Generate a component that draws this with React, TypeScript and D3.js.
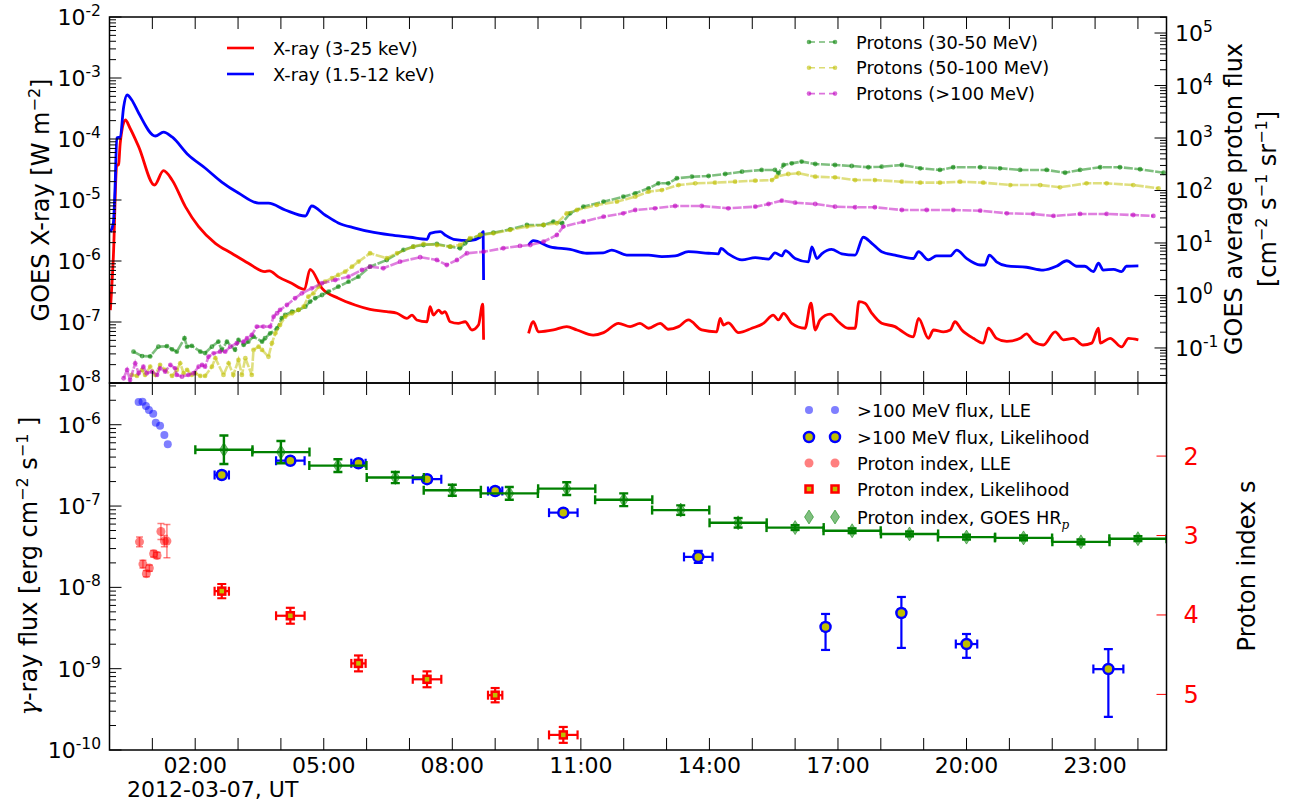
import React from "react";
import * as d3 from "d3";

// time is in hours UT on 2012-03-07

// GOES X-ray flux [W m^-2]; a null value marks the data gap
const xray3to25: [number, number | null][] = [
  [0.02, 1.57e-7], [0.09, 1.17e-6], [0.17, 3.75e-5], [0.21, 3.75e-5], [0.25, 8.5e-5], [0.37, 2.05e-4],
  [0.48, 1.5e-4], [0.68, 7.5e-5], [1.05, 1.76e-5], [1.26, 3.02e-5], [1.46, 2.13e-5], [1.77, 7.8e-6],
  [2.08, 3.65e-6], [2.47, 1.95e-6], [2.85, 1.34e-6], [3.24, 9.2e-7], [3.63, 6.7e-7], [3.73, 6.9e-7],
  [3.94, 5.5e-7], [4.25, 4.3e-7], [4.55, 3.43e-7], [4.68, 7.3e-7], [4.96, 3.57e-7], [5.34, 2.45e-7],
  [5.73, 1.9e-7], [6.08, 1.61e-7], [6.47, 1.48e-7], [6.71, 1.39e-7], [6.94, 1.15e-7], [7.06, 1.3e-7],
  [7.17, 1.08e-7], [7.41, 1.01e-7], [7.48, 1.78e-7], [7.56, 1.3e-7], [7.68, 1.57e-7], [7.76, 1.39e-7],
  [7.83, 1.48e-7], [7.95, 1.01e-7], [8.14, 9.5e-8], [8.3, 1.01e-7], [8.46, 7.4e-8], [8.61, 8.9e-8],
  [8.71, 1.97e-7], [8.73, 5.1e-8], [8.75, null],
  [9.78, 6.5e-8], [9.89, 1.01e-7], [10.01, 6.9e-8], [10.36, 7.4e-8], [10.67, 8.4e-8], [10.91, 7.4e-8],
  [11.29, 6.1e-8], [11.53, 6.7e-8], [11.88, 9.5e-8], [12.15, 8.4e-8], [12.38, 9.5e-8], [12.58, 7.9e-8],
  [12.85, 9.5e-8], [13.04, 7.6e-8], [13.28, 8.4e-8], [13.51, 1.08e-7], [13.82, 7.4e-8], [14.17, 6.9e-8],
  [14.25, 1.15e-7], [14.33, 8.9e-8], [14.44, 9.7e-8], [14.68, 6.7e-8], [14.99, 7.9e-8], [15.26, 9.5e-8],
  [15.49, 1.3e-7], [15.61, 1.08e-7], [15.73, 1.39e-7], [15.92, 9.5e-8], [16.23, 7.9e-8], [16.37, 2.03e-7],
  [16.47, 7.4e-8], [16.58, 1.08e-7], [16.82, 1.35e-7], [17.01, 1.01e-7], [17.24, 7.9e-8], [17.4, 7.9e-8],
  [17.49, 2.15e-7], [17.63, 2.03e-7], [17.79, 1.39e-7], [18.02, 9.5e-8], [18.33, 8.4e-8], [18.45, 7.4e-8],
  [18.76, 5.7e-8], [18.88, 1.15e-7], [19.11, 5.4e-8], [19.23, 7.4e-8], [19.46, 6.9e-8], [19.62, 7.4e-8],
  [19.73, 1.01e-7], [19.89, 7.4e-8], [20.16, 5.4e-8], [20.39, 4.5e-8], [20.51, 7.9e-8], [20.7, 5.4e-8],
  [20.94, 4.8e-8], [21.25, 5.4e-8], [21.4, 6.4e-8], [21.56, 4.8e-8], [21.79, 4.2e-8], [22.07, 6.9e-8],
  [22.26, 5.1e-8], [22.49, 5.4e-8], [22.72, 4.2e-8], [22.92, 4.5e-8], [23.08, 7.9e-8], [23.12, 4.5e-8],
  [23.35, 5.4e-8], [23.62, 3.9e-8], [23.78, 5.4e-8], [24.01, 5.1e-8],
];

const xray1p5to12: [number, number | null][] = [
  [0.02, 3.0e-6], [0.09, 4.2e-6], [0.13, 1.63e-5], [0.17, 1.04e-4], [0.25, 1.08e-4], [0.33, 3.35e-4],
  [0.41, 5.26e-4], [0.52, 4.35e-4], [0.68, 2.67e-4], [1.07, 1.12e-4], [1.26, 1.3e-4], [1.46, 1.08e-4],
  [1.84, 5.47e-5], [2.23, 3.35e-5], [2.62, 1.97e-5], [3.01, 1.3e-5], [3.48, 8.9e-6], [3.71, 8.9e-6],
  [4.1, 6.86e-6], [4.57, 5.47e-6], [4.72, 7.98e-6], [5.03, 5.68e-6], [5.34, 4.2e-6], [5.73, 3.47e-6],
  [6.08, 3.02e-6], [6.55, 2.67e-6], [7.02, 2.45e-6], [7.41, 2.27e-6], [7.48, 2.84e-6], [7.72, 3.02e-6],
  [7.83, 2.67e-6], [8.03, 2.27e-6], [8.41, 2.15e-6], [8.65, 2.45e-6], [8.72, 3.02e-6], [8.73, 4.9e-7],
  [8.75, null],
  [9.78, 1.83e-6], [9.89, 2.15e-6], [10.28, 1.71e-6], [10.75, 1.55e-6], [11.14, 1.34e-6], [11.52, 1.36e-6],
  [11.72, 1.51e-6], [12.07, 1.25e-6], [12.58, 1.25e-6], [12.89, 1.18e-6], [13.2, 1.21e-6], [13.51, 1.42e-6],
  [13.98, 1.34e-6], [14.21, 1.31e-6], [14.27, 1.61e-6], [14.44, 1.31e-6], [14.76, 1.04e-6], [15.07, 1.14e-6],
  [15.38, 1.07e-6], [15.53, 1.36e-6], [15.69, 1.21e-6], [15.77, 1.48e-6], [16.0, 1.1e-6], [16.31, 9.7e-7],
  [16.39, 1.71e-6], [16.51, 1.1e-6], [16.62, 1.31e-6], [16.85, 1.55e-6], [17.09, 1.31e-6], [17.4, 1.25e-6],
  [17.59, 2.45e-6], [17.79, 1.95e-6], [18.02, 1.42e-6], [18.33, 1.25e-6], [18.76, 1.1e-6], [18.88, 1.42e-6],
  [19.11, 1.04e-6], [19.3, 1.21e-6], [19.62, 1.21e-6], [19.77, 1.51e-6], [20.0, 1.1e-6], [20.32, 8.6e-7],
  [20.43, 8.6e-7], [20.53, 1.25e-6], [20.7, 9.7e-7], [20.94, 8.3e-7], [21.4, 7.9e-7], [21.79, 7.1e-7],
  [22.1, 8.2e-7], [22.34, 1.01e-6], [22.57, 8.2e-7], [22.76, 8.2e-7], [22.96, 6.7e-7], [23.08, 9.2e-7],
  [23.19, 7.1e-7], [23.43, 7.3e-7], [23.62, 6.7e-7], [23.73, 8.2e-7], [24.01, 8.3e-7],
];

// GOES average proton flux [cm^-2 s^-1 sr^-1]
const protons30to50: [number, number][] = [
  [0.56, 0.085], [0.76, 0.07], [0.95, 0.069], [1.14, 0.106], [1.34, 0.108], [1.46, 0.094], [1.57, 0.085],
  [1.75, 0.153], [1.81, 0.106], [1.92, 0.11], [2.12, 0.085], [2.23, 0.08], [2.39, 0.106], [2.54, 0.132],
  [2.62, 0.092], [2.74, 0.132], [2.93, 0.092], [3.01, 0.142], [3.13, 0.114], [3.24, 0.132], [3.36, 0.164],
  [3.56, 0.132], [3.63, 0.153], [3.75, 0.19], [3.91, 0.237], [4.02, 0.368], [4.1, 0.425], [4.26, 0.491],
  [4.41, 0.53], [4.57, 0.612], [4.68, 0.762], [4.8, 0.885], [4.96, 1.02], [5.11, 1.18], [5.34, 1.47],
  [5.58, 1.83], [5.81, 2.28], [6.08, 3.54], [6.47, 4.74], [6.86, 7.36], [7.09, 8.51], [7.33, 9.16],
  [7.64, 9.57], [7.95, 8.51], [8.18, 7.93], [8.3, 9.87], [8.41, 11.7], [8.65, 14.2], [8.96, 15.7],
  [9.35, 18.2], [9.74, 22.0], [10.13, 22.0], [10.36, 25.5], [10.56, 23.7], [10.75, 36.8], [11.06, 49.1],
  [11.53, 61.2], [11.99, 76.2], [12.27, 88.5], [12.58, 110], [12.81, 137], [13.04, 137], [13.24, 171],
  [13.59, 183], [13.98, 189], [14.37, 206], [14.76, 228], [15.22, 246], [15.53, 246], [15.61, 213],
  [15.73, 306], [15.92, 329], [16.15, 355], [16.47, 320], [16.93, 306], [17.32, 293], [17.71, 277],
  [18.02, 284], [18.49, 306], [18.92, 265], [19.38, 246], [19.69, 277], [20.32, 277], [20.78, 265],
  [21.25, 246], [21.87, 246], [22.3, 218], [22.65, 246], [23.12, 277], [23.58, 277], [24.05, 254],
  [24.6, 218],
];

const protons50to100: [number, number][] = [
  [0.52, 0.0306], [0.64, 0.0293], [0.76, 0.0381], [0.83, 0.0306], [0.95, 0.044], [1.07, 0.0306],
  [1.18, 0.0474], [1.3, 0.0381], [1.46, 0.0293], [1.57, 0.0381], [1.65, 0.051], [1.73, 0.033],
  [1.81, 0.0381], [1.92, 0.0306], [2.0, 0.033], [2.12, 0.0293], [2.23, 0.0293], [2.39, 0.044],
  [2.47, 0.064], [2.66, 0.0306], [2.78, 0.051], [2.89, 0.0306], [3.01, 0.059], [3.09, 0.0306],
  [3.17, 0.064], [3.32, 0.0306], [3.36, 0.0916], [3.48, 0.106], [3.56, 0.0916], [3.71, 0.068],
  [3.79, 0.123], [3.87, 0.19], [3.98, 0.274], [4.1, 0.394], [4.26, 0.458], [4.41, 0.53], [4.53, 0.612],
  [4.64, 0.948], [4.76, 1.1], [4.88, 1.47], [5.03, 1.83], [5.19, 2.13], [5.34, 2.46], [5.5, 2.84],
  [5.66, 3.54], [5.81, 4.4], [6.08, 6.37], [6.47, 5.12], [6.71, 6.37], [7.09, 8.51], [7.33, 9.57],
  [7.64, 9.16], [7.95, 8.51], [8.18, 9.16], [8.41, 12.3], [8.65, 14.2], [8.96, 15.3], [9.35, 17.7],
  [9.74, 20.5], [10.13, 22.0], [10.44, 23.7], [10.67, 36.8], [10.91, 42.5], [11.37, 53.0], [11.84, 61.2],
  [12.27, 76.2], [12.58, 94.9], [12.89, 102], [13.28, 127], [13.67, 137], [14.13, 141], [14.6, 147],
  [15.07, 154], [15.46, 158], [15.57, 183], [15.84, 206], [16.08, 213], [16.47, 183], [16.93, 178],
  [17.4, 158], [17.86, 158], [18.49, 147], [18.92, 141], [19.38, 141], [19.85, 147], [20.39, 141],
  [21.02, 127], [21.72, 127], [22.18, 115], [22.8, 137], [23.27, 137], [23.89, 127], [24.48, 110],
];

const protonsAbove100: [number, number][] = [
  [0.33, 0.0265], [0.41, 0.0381], [0.48, 0.0245], [0.6, 0.051], [0.68, 0.033], [0.79, 0.044],
  [0.87, 0.033], [0.99, 0.0354], [1.11, 0.0306], [1.18, 0.041], [1.3, 0.0354], [1.42, 0.0474],
  [1.53, 0.041], [1.57, 0.0306], [1.69, 0.0284], [1.84, 0.0306], [1.96, 0.033], [2.08, 0.044],
  [2.16, 0.0474], [2.23, 0.044], [2.31, 0.068], [2.43, 0.079], [2.58, 0.085], [2.7, 0.085],
  [2.82, 0.106], [2.97, 0.123], [3.13, 0.132], [3.21, 0.153], [3.32, 0.177], [3.44, 0.255],
  [3.59, 0.255], [3.75, 0.255], [3.83, 0.394], [3.91, 0.458], [3.98, 0.53], [4.14, 0.659],
  [4.33, 0.885], [4.49, 1.1], [4.72, 1.37], [4.96, 1.71], [5.27, 1.97], [5.58, 2.28], [5.89, 3.06],
  [6.08, 3.54], [6.39, 3.3], [6.78, 4.4], [7.25, 5.35], [7.64, 4.74], [7.87, 3.81], [8.11, 4.74],
  [8.34, 6.37], [8.73, 6.83], [9.19, 7.93], [9.58, 8.77], [9.82, 9.16], [10.13, 10.6], [10.44, 14.2],
  [10.59, 20.5], [11.06, 25.5], [11.53, 31.7], [11.99, 36.8], [12.27, 42.5], [12.73, 45.8], [13.2, 50.7],
  [13.82, 50.7], [14.44, 45.8], [15.07, 49.1], [15.38, 55.3], [15.69, 64.0], [16.0, 58.6], [16.47, 55.3],
  [16.93, 49.1], [17.4, 47.9], [17.86, 47.9], [18.49, 42.5], [19.07, 42.5], [19.69, 42.5], [20.32, 41.2],
  [20.94, 36.8], [21.56, 35.7], [22.03, 32.7], [22.65, 35.7], [23.27, 35.7], [23.89, 34.1], [24.36, 32.7],
];

// >100 MeV gamma-ray flux [erg cm^-2 s^-1], LLE: [t, flux]
const lleFlux: [number, number][] = [
  [0.68, 1.9e-6], [0.77, 1.92e-6], [0.85, 1.7e-6], [0.92, 1.52e-6], [1.02, 1.36e-6],
  [1.08, 1.06e-6], [1.18, 9.7e-7], [1.28, 7.5e-7], [1.36, 5.75e-7],
];
// proton index from LLE: [t, s, error]
const lleIndex: [number, number, number][] = [
  [0.7, 3.08, 0.06], [0.78, 3.36, 0.05], [0.86, 3.48, 0.04], [0.93, 3.41, 0.04], [1.03, 3.23, 0.04],
  [1.11, 3.25, 0.04], [1.2, 2.95, 0.1], [1.28, 3.07, 0.07], [1.34, 3.07, 0.21],
];
// likelihood flux: [t, half-width, flux, lower, upper]
const likeFlux: [number, number, number, number, number][] = [
  [2.62, 0.167, 2.41e-7, 2.2e-7, 2.63e-7],
  [4.22, 0.333, 3.61e-7, 3.3e-7, 3.95e-7],
  [5.81, 0.167, 3.36e-7, 3.1e-7, 3.65e-7],
  [7.41, 0.333, 2.14e-7, 1.96e-7, 2.33e-7],
  [9.0, 0.167, 1.53e-7, 1.4e-7, 1.67e-7],
  [10.59, 0.333, 8.3e-8, 7.6e-8, 9.0e-8],
  [13.74, 0.333, 2.37e-8, 2.0e-8, 2.81e-8],
  [16.71, 0.08, 3.26e-9, 1.7e-9, 4.71e-9],
  [18.48, 0.08, 4.84e-9, 1.8e-9, 7.62e-9],
  [20.0, 0.25, 2.01e-9, 1.36e-9, 2.67e-9],
  [23.31, 0.35, 9.9e-10, 2.55e-10, 1.74e-9],
];
// likelihood proton index: [t, half-width, s, error]
const likeIndex: [number, number, number, number][] = [
  [2.62, 0.167, 3.7, 0.09], [4.22, 0.333, 4.01, 0.1], [5.81, 0.167, 4.61, 0.1],
  [7.41, 0.333, 4.81, 0.1], [9.0, 0.167, 5.01, 0.09], [10.59, 0.333, 5.51, 0.1],
];
// GOES HR_p proton index, 80-minute bins
const goesBinCenters = [2.67, 4.0, 5.33, 6.67, 8.0, 9.33, 10.67, 12.0, 13.33, 14.67, 16.0, 17.33, 18.67, 20.0, 21.33, 22.67, 24.0];
const goesBinHalfWidth = 0.667;
const goesIndex = [1.92, 1.95, 2.12, 2.27, 2.43, 2.47, 2.41, 2.55, 2.68, 2.84, 2.9, 2.94, 2.98, 3.02, 3.03, 3.08, 3.04];
const goesIndexErr = [0.18, 0.14, 0.08, 0.07, 0.07, 0.08, 0.08, 0.08, 0.06, 0.06, 0.03, 0.03, 0.03, 0.03, 0.03, 0.03, 0.03];

// axes
const timeRange = [0, 24 + 40 / 60];
const labelHours = [2, 5, 8, 11, 14, 17, 20, 23];
const dateLabel = "2012-03-07, UT";
const xrayRange = [1e-8, 1e-2];
const protonRange = [2.15e-2, 2.02e5];
const gammaRange = [1e-10, 3.26e-6];
const indexRange = [1.08, 5.7];
const indexTicks = [2, 3, 4, 5];

const FONT = "'DejaVu Sans', 'Liberation Sans', sans-serif";
const W = 1297;
const H = 803;
const PL = 109.5;
const PR = 1166.5;
const PT = 17;
const PM = 383;
const PB = 750;
const MAJ = 12;
const MIN = 6.5;
const LEG = 17.8;

const isDecade = (v: number) => Math.abs(Math.log10(v) - Math.round(Math.log10(v))) < 1e-6;

function Pow10({ x, y, exp, anchor }: { x: number; y: number; exp: number; anchor: string }) {
  return (
    <text x={x} y={y + 8} textAnchor={anchor} fontSize={22}>
      10
      <tspan dy={-9} fontSize={15.5}>
        {String(exp)}
      </tspan>
    </text>
  );
}

function LogAxis({ scale, side, labels }: { scale: any; side: "left" | "right"; labels: boolean }) {
  const x0 = side === "left" ? PL : PR;
  const dir = side === "left" ? 1 : -1;
  return (
    <g>
      {scale.ticks().map((v: number, i: number) => {
        const y = scale(v);
        const major = isDecade(v);
        return (
          <g key={i}>
            <line x1={x0} x2={x0 + dir * (major ? MAJ : MIN)} y1={y} y2={y} stroke="#000" strokeWidth={1} />
            {labels && major && (
              <Pow10
                x={side === "left" ? PL - 8.5 : PR + 8.5}
                y={y}
                exp={Math.round(Math.log10(v))}
                anchor={side === "left" ? "end" : "start"}
              />
            )}
          </g>
        );
      })}
    </g>
  );
}

function XTicks({ x, yTop, yBot }: { x: any; yTop: number; yBot: number }) {
  const hours = x.ticks(25).filter((h: number) => h > 0);
  return (
    <g>
      {hours.map((h: number) => (
        <g key={h}>
          <line x1={x(h)} x2={x(h)} y1={yTop} y2={yTop + MAJ} stroke="#000" />
          <line x1={x(h)} x2={x(h)} y1={yBot} y2={yBot - MAJ} stroke="#000" />
        </g>
      ))}
    </g>
  );
}

function ErrBar({ x1, x2, y1, y2, color, width = 2, cap = 4.5, opacity = 1 }: any) {
  const horizontal = y1 === y2;
  return (
    <g stroke={color} strokeWidth={width} strokeOpacity={opacity}>
      <line x1={x1} x2={x2} y1={y1} y2={y2} />
      {horizontal ? (
        <>
          <line x1={x1} x2={x1} y1={y1 - cap} y2={y1 + cap} />
          <line x1={x2} x2={x2} y1={y1 - cap} y2={y1 + cap} />
        </>
      ) : (
        <>
          <line x1={x1 - cap} x2={x1 + cap} y1={y1} y2={y1} />
          <line x1={x1 - cap} x2={x1 + cap} y1={y2} y2={y2} />
        </>
      )}
    </g>
  );
}

const diamond = "M0,-7 L4.5,0 L0,7 L-4.5,0 Z";

export default function App() {
  const x = d3.scaleLinear().domain(timeRange).range([PL, PR]);
  const yXray = d3.scaleLog().domain(xrayRange).range([PM, PT]);
  const yProton = d3.scaleLog().domain(protonRange).range([PM, PT]);
  const yGamma = d3.scaleLog().domain(gammaRange).range([PB, PM]);
  const yIndex = d3.scaleLinear().domain(indexRange).range([PM, PB]);

  const xrayLine = d3
    .line<[number, number | null]>()
    .defined((d) => d[1] != null)
    .curve(d3.curveMonotoneX)
    .x((d) => x(d[0]))
    .y((d) => yXray(d[1] as number));
  const protonLine = d3
    .line<[number, number]>()
    .x((d) => x(d[0]))
    .y((d) => yProton(d[1]));

  const xraySeries = [
    { name: "X-ray (3-25 keV)", data: xray3to25, color: "#ff0000" },
    { name: "X-ray (1.5-12 keV)", data: xray1p5to12, color: "#0000ff" },
  ];
  const protonSeries = [
    { name: "Protons (30-50 MeV)", data: protons30to50, color: "#008000" },
    { name: "Protons (50-100 MeV)", data: protons50to100, color: "#bfbf00" },
    { name: "Protons (>100 MeV)", data: protonsAbove100, color: "#bf00bf" },
  ];

  const legendBottom = [
    ">100 MeV flux, LLE",
    ">100 MeV flux, Likelihood",
    "Proton index, LLE",
    "Proton index, Likelihood",
  ];
  const legendMarker = (i: number, cx: number, cy: number) => {
    if (i === 0) return <circle cx={cx} cy={cy} r={4} fill="#0000ff" fillOpacity={0.5} />;
    if (i === 1) return <circle cx={cx} cy={cy} r={5} fill="#bfbf00" stroke="#0000ff" strokeWidth={2.5} />;
    if (i === 2) return <circle cx={cx} cy={cy} r={4.5} fill="#ff0000" fillOpacity={0.5} />;
    if (i === 3)
      return <rect x={cx - 3.5} y={cy - 3.5} width={7} height={7} fill="#bfbf00" stroke="#ff0000" strokeWidth={2.5} />;
    return <path d={diamond} transform={`translate(${cx},${cy})`} fill="#008000" fillOpacity={0.5} stroke="#008000" strokeOpacity={0.5} />;
  };

  return (
    <svg
      width={W}
      height={H}
      fontFamily={FONT}
      style={{ position: "absolute", left: 0, top: 0, background: "#fff" }}
    >
      <defs>
        <clipPath id="clipTop">
          <rect x={PL} y={PT} width={PR - PL} height={PM - PT} />
        </clipPath>
        <clipPath id="clipBot">
          <rect x={PL} y={PM} width={PR - PL} height={PB - PM} />
        </clipPath>
      </defs>
      <rect width={W} height={H} fill="#fff" />

      {/* ---------- top panel ---------- */}
      <g clipPath="url(#clipTop)">
        {xraySeries.map((s) => (
          <path key={s.name} d={xrayLine(s.data) || ""} fill="none" stroke={s.color} strokeWidth={2.8} strokeLinejoin="round" />
        ))}
        {protonSeries.map((s) => (
          <g key={s.name}>
            <path d={protonLine(s.data) || ""} fill="none" stroke={s.color} strokeOpacity={0.5} strokeWidth={2.6} strokeDasharray="9,1.5" />
            {s.data.map((d, i) => (
              <circle key={i} cx={x(d[0])} cy={yProton(d[1])} r={2.4} fill={s.color} fillOpacity={0.6} />
            ))}
          </g>
        ))}
      </g>

      {/* top legends */}
      {xraySeries.map((s, i) => {
        const yy = 48 + i * 26;
        return (
          <g key={s.name}>
            <line x1={227} x2={254} y1={yy} y2={yy} stroke={s.color} strokeWidth={2.6} />
            <text x={273} y={yy + 6.5} fontSize={LEG}>
              {s.name}
            </text>
          </g>
        );
      })}
      {protonSeries.map((s, i) => {
        const yy = 42 + i * 25.8;
        return (
          <g key={s.name}>
            <line x1={809} x2={835} y1={yy} y2={yy} stroke={s.color} strokeOpacity={0.55} strokeWidth={1.6} strokeDasharray="6,4" />
            <circle cx={809} cy={yy} r={2.3} fill={s.color} fillOpacity={0.6} />
            <circle cx={835} cy={yy} r={2.3} fill={s.color} fillOpacity={0.6} />
            <text x={856} y={yy + 6.5} fontSize={LEG}>
              {s.name}
            </text>
          </g>
        );
      })}

      <LogAxis scale={yXray} side="left" labels={true} />
      <LogAxis scale={yProton} side="right" labels={true} />
      <XTicks x={x} yTop={PT} yBot={PM} />
      <rect x={PL} y={PT} width={PR - PL} height={PM - PT} fill="none" stroke="#000" strokeWidth={1.5} />

      {/* ---------- bottom panel ---------- */}
      <g clipPath="url(#clipBot)">
        {lleFlux.map((d, i) => (
          <circle key={i} cx={x(d[0])} cy={yGamma(d[1])} r={4} fill="#0000ff" fillOpacity={0.5} />
        ))}
        {likeFlux.map((d, i) => (
          <g key={i}>
            <ErrBar x1={x(d[0] - d[1])} x2={x(d[0] + d[1])} y1={yGamma(d[2])} y2={yGamma(d[2])} color="#0000ff" width={2.2} />
            <ErrBar x1={x(d[0])} x2={x(d[0])} y1={yGamma(d[3])} y2={yGamma(d[4])} color="#0000ff" width={2.2} />
            <circle cx={x(d[0])} cy={yGamma(d[2])} r={5} fill="#bfbf00" stroke="#0000ff" strokeWidth={2.5} />
          </g>
        ))}
        {lleIndex.map((d, i) => (
          <g key={i}>
            <ErrBar x1={x(d[0])} x2={x(d[0])} y1={yIndex(d[1] - d[2])} y2={yIndex(d[1] + d[2])} color="#ff0000" width={1.5} cap={3.5} opacity={0.5} />
            <circle cx={x(d[0])} cy={yIndex(d[1])} r={4.5} fill="#ff0000" fillOpacity={0.5} />
          </g>
        ))}
        {likeIndex.map((d, i) => (
          <g key={i}>
            <ErrBar x1={x(d[0] - d[1])} x2={x(d[0] + d[1])} y1={yIndex(d[2])} y2={yIndex(d[2])} color="#ff0000" width={2.2} />
            <ErrBar x1={x(d[0])} x2={x(d[0])} y1={yIndex(d[2] - d[3])} y2={yIndex(d[2] + d[3])} color="#ff0000" width={2.2} />
            <rect x={x(d[0]) - 3.5} y={yIndex(d[2]) - 3.5} width={7} height={7} fill="#bfbf00" stroke="#ff0000" strokeWidth={2.5} />
          </g>
        ))}
        {goesBinCenters.map((t, i) => (
          <g key={i}>
            <ErrBar x1={x(t - goesBinHalfWidth)} x2={x(t + goesBinHalfWidth)} y1={yIndex(goesIndex[i])} y2={yIndex(goesIndex[i])} color="#008000" width={2.4} />
            <ErrBar x1={x(t)} x2={x(t)} y1={yIndex(goesIndex[i] - goesIndexErr[i])} y2={yIndex(goesIndex[i] + goesIndexErr[i])} color="#008000" width={2.4} />
            <path d={diamond} transform={`translate(${x(t)},${yIndex(goesIndex[i])})`} fill="#008000" fillOpacity={0.5} stroke="#008000" strokeOpacity={0.5} />
          </g>
        ))}
      </g>

      {/* bottom legend */}
      {[...legendBottom, "GOES"].map((name, i) => {
        const yy = [410, 437, 463, 489, 517][i];
        return (
          <g key={i}>
            {legendMarker(i, 809, yy)}
            {legendMarker(i, 835, yy)}
            <text x={857} y={yy + 6.5} fontSize={LEG}>
              {i < 4 ? (
                name
              ) : (
                <>
                  Proton index, GOES HR
                  <tspan dy={5} fontSize={12} fontStyle="italic" fontFamily="'DejaVu Serif', serif">
                    p
                  </tspan>
                </>
              )}
            </text>
          </g>
        );
      })}

      <LogAxis scale={yGamma} side="left" labels={true} />
      {indexTicks.map((s) => (
        <g key={s}>
          <line x1={PR} x2={PR - 10} y1={yIndex(s)} y2={yIndex(s)} stroke="#ff0000" />
          <text x={PR + 17} y={yIndex(s) + 8.5} fontSize={24} fill="#ff0000">
            {s}
          </text>
        </g>
      ))}
      <XTicks x={x} yTop={PM} yBot={PB} />
      <rect x={PL} y={PM} width={PR - PL} height={PB - PM} fill="none" stroke="#000" strokeWidth={1.5} />

      {labelHours.map((h) => (
        <text key={h} x={x(h)} y={773} textAnchor="middle" fontSize={22}>
          {`${d3.format("02d")(h)}:00`}
        </text>
      ))}
      <text x={127} y={797} fontSize={22}>
        {dateLabel}
      </text>

      {/* axis titles */}
      <text transform="translate(49,200) rotate(-90)" textAnchor="middle" fontSize={24}>
        GOES X-ray [W m<tspan dy={-9} fontSize={16}>−2</tspan>
        <tspan dy={9}>]</tspan>
      </text>
      <text transform="translate(37,566) rotate(-90)" textAnchor="middle" fontSize={24}>
        <tspan fontStyle="italic" fontFamily="'DejaVu Serif', serif">γ</tspan>-ray flux [erg cm
        <tspan dy={-9} fontSize={16}>−2</tspan>
        <tspan dy={9}> s</tspan>
        <tspan dy={-9} fontSize={16}>−1</tspan>
        <tspan dy={9}> ]</tspan>
      </text>
      <text transform="translate(1242,199) rotate(-90)" textAnchor="middle" fontSize={24}>
        GOES average proton flux
      </text>
      <text transform="translate(1276,199) rotate(-90)" textAnchor="middle" fontSize={24}>
        [cm<tspan dy={-9} fontSize={16}>−2</tspan>
        <tspan dy={9}> s</tspan>
        <tspan dy={-9} fontSize={16}>−1</tspan>
        <tspan dy={9}> sr</tspan>
        <tspan dy={-9} fontSize={16}>−1</tspan>
        <tspan dy={9}>]</tspan>
      </text>
      <text transform="translate(1255,566) rotate(-90)" textAnchor="middle" fontSize={24}>
        Proton index s
      </text>
    </svg>
  );
}
